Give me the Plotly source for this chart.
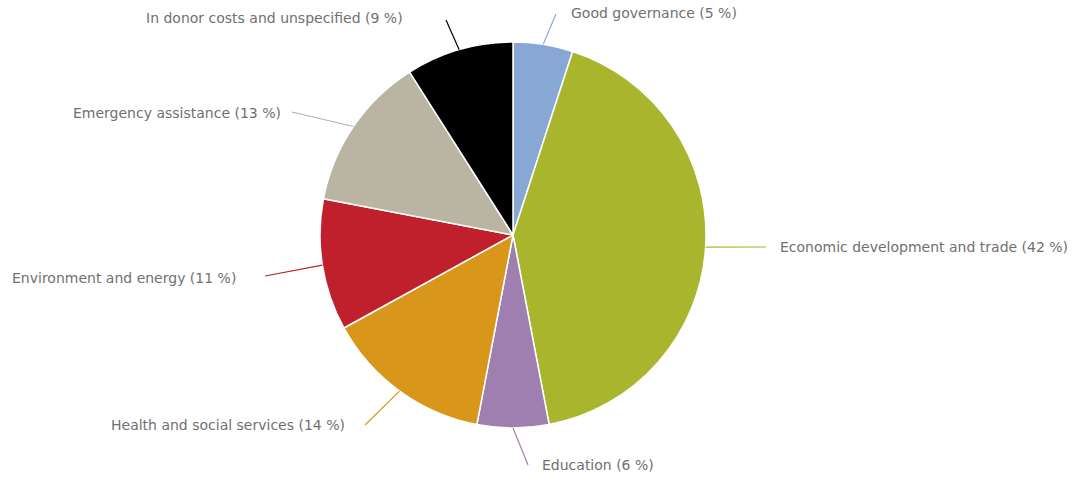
import math
import plotly.graph_objects as go

# ---- data ----
categories = [
    "Good governance",
    "Economic development and trade",
    "Education",
    "Health and social services",
    "Environment and energy",
    "Emergency assistance",
    "In donor costs and unspecified",
]
shares = [5, 42, 6, 14, 11, 13, 9]
colors = ["#87a7d5", "#a9b62d", "#9e7fb0", "#d8961a", "#c0202b", "#bab4a2", "#000000"]

# ---- layout (pixels) ----
W, H = 1077, 478
CX, CY, R = 513, 235, 193

# label anchor positions (pixels) and line end points
label_pos = [(569, 13), (778, 247), (540, 465), (347, 425), (238, 278), (283, 113), (405, 18)]
line_end = [(556, 14), (766, 247), (528, 465), (365, 425), (265, 276), (292, 112), (446, 20)]
anchors = ["left", "left", "left", "right", "right", "right", "right"]


def px(x):
    return x / W


def py(y):
    return 1 - y / H


fig = go.Figure(
    go.Pie(
        labels=categories,
        values=shares,
        sort=False,
        direction="clockwise",
        rotation=0,
        marker=dict(colors=colors, line=dict(color="white", width=1.5)),
        textinfo="none",
        hoverinfo="label+percent",
        showlegend=False,
        domain=dict(x=[px(CX - R), px(CX + R)], y=[py(CY + R), py(CY - R)]),
    )
)

total = sum(shares)
cum = 0
shapes = []
annotations = []
for i, (cat, v) in enumerate(zip(categories, shares)):
    mid = (cum + v / 2) / total * 2 * math.pi
    cum += v
    ex = CX + R * math.sin(mid)
    ey = CY - R * math.cos(mid)
    lx, ly = line_end[i]
    shapes.append(
        dict(
            type="line", xref="paper", yref="paper",
            x0=px(ex), y0=py(ey), x1=px(lx), y1=py(ly),
            line=dict(color=colors[i], width=1.2),
        )
    )
    tx, ty = label_pos[i]
    annotations.append(
        dict(
            x=px(tx), y=py(ty), xref="paper", yref="paper",
            text=f"{cat} ({v} %)", showarrow=False,
            xanchor=anchors[i], yanchor="middle",
            font=dict(family="DejaVu Sans", size=14, color="#707070"),
        )
    )

fig.update_layout(
    width=W, height=H,
    margin=dict(l=0, r=0, t=0, b=0),
    paper_bgcolor="white",
    plot_bgcolor="white",
    shapes=shapes,
    annotations=annotations,
)

fig.write_html("out.html")
